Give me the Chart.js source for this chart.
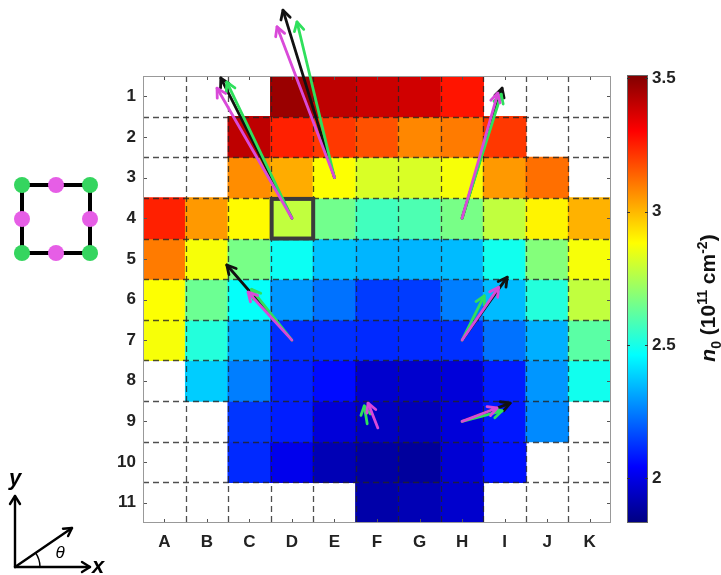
<!DOCTYPE html>
<html><head><meta charset="utf-8">
<script src="https://cdn.jsdelivr.net/npm/chart.js@4.4.0/dist/chart.umd.min.js"></script>
<style>
html,body{margin:0;padding:0;background:#fff;width:721px;height:575px;overflow:hidden;}
#main{position:absolute;left:0;top:0;}
#cb{position:absolute;left:600px;top:0;}
#cbTitle{position:absolute;left:709px;top:298px;transform:translate(-50%,-50%) rotate(-90deg);font:bold 21px "Liberation Sans",Arial,sans-serif;white-space:nowrap;color:#111;}
#cbTitle sub,#cbTitle sup{font-size:14px;}
svg{position:absolute;left:0;top:0;pointer-events:none;}
</style></head><body>
<canvas id="main" width="721" height="575"></canvas>
<canvas id="cb" width="121" height="575"></canvas>
<div id="cbTitle"><i>n</i><sub>0</sub> (10<sup>11</sup> cm<sup>-2</sup>)</div>
<svg width="721" height="575">
  <rect x="22" y="185" width="68" height="68" fill="none" stroke="#000" stroke-width="4"/>
  <g fill="#35d55f"><circle cx="22" cy="185" r="8"/><circle cx="90" cy="185" r="8"/><circle cx="22" cy="253" r="8"/><circle cx="90" cy="253" r="8"/></g>
  <g fill="#e65ee6"><circle cx="56" cy="185" r="8"/><circle cx="22" cy="219" r="8"/><circle cx="90" cy="219" r="8"/><circle cx="56" cy="253" r="8"/></g>
  <g stroke="#000" stroke-width="2.4" fill="none" stroke-linecap="round" stroke-linejoin="round">
    <line x1="15" y1="567" x2="15" y2="496"/>
    <polyline points="10,504 15,496 20,504"/>
    <line x1="15" y1="567" x2="90" y2="567"/>
    <polyline points="82,562 90,567 82,572"/>
    <line x1="15" y1="567" x2="72" y2="528"/>
    <polyline points="63,528.7 72,528 68.1,536.1"/>
    <path d="M40,567 A25,25 0 0 0 35.6,552.9" stroke-width="1.5"/>
  </g>
  <g font-family="Liberation Sans, Arial, sans-serif" font-style="italic" font-weight="bold" fill="#000">
    <text x="15" y="485" font-size="22" text-anchor="middle">y</text>
    <text x="92" y="573" font-size="22">x</text>
    <text x="60" y="558" font-size="17" text-anchor="middle" font-weight="normal">θ</text>
  </g>
</svg>
<script>
const colLabels = ['A','B','C','D','E','F','G','H','I','J','K'];
const rowLabels = ['1','2','3','4','5','6','7','8','9','10','11'];
// n0 values (10^11 cm^-2), columns A..K, null = no data
const n0Row1  = [null, null, null, 3.47, 3.41, 3.39, 3.38, 3.27, null, null, null];
const n0Row2  = [null, null, 3.41, 3.25, 3.21, 3.17, 3.08, 3.10, 3.21, null, null];
const n0Row3  = [null, null, 3.07, 3.02, 2.88, 2.82, 2.82, 2.87, 3.05, 3.12, null];
const n0Row4  = [3.25, 3.05, 2.89, 2.78, 2.65, 2.57, 2.59, 2.66, 2.78, 2.90, 3.01];
const n0Row5  = [3.10, 2.87, 2.66, 2.48, 2.36, 2.34, 2.34, 2.35, 2.49, 2.68, 2.87];
const n0Row6  = [2.88, 2.64, 2.47, 2.29, 2.23, 2.14, 2.14, 2.25, 2.35, 2.52, 2.78];
const n0Row7  = [2.87, 2.52, 2.33, 2.12, 2.12, 2.11, 2.11, 2.12, 2.23, 2.33, 2.61];
const n0Row8  = [null, 2.38, 2.25, 2.10, 2.06, 1.96, 1.96, 1.98, 2.09, 2.29, 2.49];
const n0Row9  = [null, null, 2.13, 2.09, 1.98, 1.94, 1.93, 1.98, 2.08, 2.27, null];
const n0Row10 = [null, null, 2.11, 2.01, 1.92, 1.89, 1.88, 1.97, 2.07, null, null];
const n0Row11 = [null, null, null, null, null, 1.90, 1.92, 1.96, null, null, null];
const n0Rows = [n0Row1, n0Row2, n0Row3, n0Row4, n0Row5, n0Row6, n0Row7, n0Row8, n0Row9, n0Row10, n0Row11];

const colorMin = 1.832, colorMax = 3.513;
const colorbarTicks = [2, 2.5, 3, 3.5];
const highlightCell = [4, 4]; // column D, row 4

// arrows: [tailCol, tailRow, headCol, headRow] in cell units
const blackArrows   = [[4,4,2.33,0.55],[5,3,3.79,-1.12],[8,4,8.94,0.80],[4,7,2.47,5.15],[8,7,9.06,5.45],[8,9,9.13,8.55]];
const greenArrows   = [[4,4,2.47,0.65],[5,3,4.12,-0.83],[8,4,8.92,0.95],[4,7,3.05,5.75],[8,7,8.52,5.91],[5.77,9.06,5.70,8.62],[8,9,8.94,8.74]];
const magentaArrows = [[4,4,2.24,0.80],[5,3,3.65,-0.71],[8,4,8.84,0.92],[4,7,2.97,5.82],[8,7,8.86,5.70],[6.02,9.16,5.79,8.55],[8,9,8.82,8.67]];

function clamp01(v){ return Math.max(0, Math.min(1, v)); }
function jetRGB(t){
  t = clamp01(t);
  return [clamp01(1.5 - Math.abs(4*t - 3)), clamp01(1.5 - Math.abs(4*t - 2)), clamp01(1.5 - Math.abs(4*t - 1))];
}
function jetCss(t){ const c = jetRGB(t); return 'rgb(' + c.map(v => Math.round(v*255)).join(',') + ')'; }
function valueColor(v){ return jetCss((v - colorMin) / (colorMax - colorMin)); }

const datasets = n0Rows.map((row, ri) => ({
  data: row.map((v, ci) => v == null ? null : {x: ci + 1, y: [ri + 0.5, ri + 1.5], v: v}).filter(Boolean),
  backgroundColor: ctx => (ctx.raw ? valueColor(ctx.raw.v) : '#fff'),
  borderWidth: 0,
  inflateAmount: 0.6,
  grouped: false,
  categoryPercentage: 1,
  barPercentage: 1
}));

const labelFont = {family: '"Liberation Sans", Arial, sans-serif', size: 17, weight: 'bold'};

function drawArrow(ctx, x0, y0, x1, y1, color){
  ctx.strokeStyle = color;
  ctx.lineWidth = 2.8;
  ctx.lineCap = 'round';
  ctx.lineJoin = 'round';
  ctx.beginPath(); ctx.moveTo(x0, y0); ctx.lineTo(x1, y1); ctx.stroke();
  const ang = Math.atan2(y1 - y0, x1 - x0), L = 10, A = 0.5;
  ctx.beginPath();
  ctx.moveTo(x1 - L*Math.cos(ang - A), y1 - L*Math.sin(ang - A));
  ctx.lineTo(x1, y1);
  ctx.lineTo(x1 - L*Math.cos(ang + A), y1 - L*Math.sin(ang + A));
  ctx.stroke();
}

const overlayPlugin = {
  id: 'heatOverlay',
  afterDatasetsDraw(chart){
    const {ctx, chartArea: a, scales: {x, y}} = chart;
    ctx.save();
    // dashed cell boundaries
    ctx.strokeStyle = 'rgba(35,35,35,0.8)';
    ctx.lineWidth = 1.3;
    ctx.setLineDash([6, 4]);
    for (let i = 1; i < colLabels.length; i++){
      const px = Math.round(x.getPixelForValue(i + 0.5)) + 0.5;
      ctx.beginPath(); ctx.moveTo(px, a.top); ctx.lineTo(px, a.bottom); ctx.stroke();
    }
    for (let j = 1; j < rowLabels.length; j++){
      const py = Math.round(y.getPixelForValue(j + 0.5)) + 0.5;
      ctx.beginPath(); ctx.moveTo(a.left, py); ctx.lineTo(a.right, py); ctx.stroke();
    }
    ctx.setLineDash([]);
    // inner ticks
    ctx.strokeStyle = '#555'; ctx.lineWidth = 1;
    colLabels.forEach((_, i) => {
      const px = Math.round(x.getPixelForValue(i + 1)) + 0.5;
      ctx.beginPath(); ctx.moveTo(px, a.top); ctx.lineTo(px, a.top + 4); ctx.stroke();
      ctx.beginPath(); ctx.moveTo(px, a.bottom); ctx.lineTo(px, a.bottom - 4); ctx.stroke();
    });
    rowLabels.forEach((_, j) => {
      const py = Math.round(y.getPixelForValue(j + 1)) + 0.5;
      ctx.beginPath(); ctx.moveTo(a.left, py); ctx.lineTo(a.left + 4, py); ctx.stroke();
      ctx.beginPath(); ctx.moveTo(a.right, py); ctx.lineTo(a.right - 4, py); ctx.stroke();
    });
    // frame
    ctx.strokeStyle = '#999'; ctx.lineWidth = 1;
    ctx.strokeRect(Math.round(a.left) + 0.5, Math.round(a.top) + 0.5, Math.round(a.width) - 1, Math.round(a.height) - 1);
    // highlighted cell
    const hx0 = x.getPixelForValue(highlightCell[0] - 0.5), hx1 = x.getPixelForValue(highlightCell[0] + 0.5);
    const hy0 = y.getPixelForValue(highlightCell[1] - 0.5), hy1 = y.getPixelForValue(highlightCell[1] + 0.5);
    ctx.strokeStyle = '#3b3b3b'; ctx.lineWidth = 4;
    ctx.strokeRect(hx0 + 1, hy0 + 1, hx1 - hx0 - 1, hy1 - hy0 - 1);
    // arrows
    const groups = [[blackArrows, '#111111'], [greenArrows, '#2fe05c'], [magentaArrows, '#d94ad9']];
    groups.forEach(([list, color]) => list.forEach(ar => {
      drawArrow(ctx, x.getPixelForValue(ar[0]), y.getPixelForValue(ar[1]), x.getPixelForValue(ar[2]), y.getPixelForValue(ar[3]), color);
    }));
    ctx.restore();
  }
};

new Chart(document.getElementById('main'), {
  type: 'bar',
  data: {datasets: datasets},
  options: {
    responsive: false,
    animation: false,
    layout: {padding: {left: 100, right: 110, top: 76, bottom: 0}},
    plugins: {legend: {display: false}, tooltip: {enabled: false}},
    scales: {
      x: {
        type: 'linear', min: 0.5, max: 11.5, offset: false,
        grid: {display: false, drawTicks: false, offset: false}, border: {display: false},
        afterBuildTicks: s => { s.ticks = colLabels.map((_, i) => ({value: i + 1})); },
        afterFit: s => { s.height = 52; },
        ticks: {callback: v => colLabels[v - 1] || '', font: labelFont, color: '#222', padding: 9, maxRotation: 0, autoSkip: false}
      },
      y: {
        type: 'linear', reverse: true, min: 0.5, max: 11.5,
        grid: {display: false, drawTicks: false}, border: {display: false},
        afterBuildTicks: s => { s.ticks = rowLabels.map((_, i) => ({value: i + 1})); },
        afterFit: s => { s.width = 43; },
        ticks: {callback: v => rowLabels[v - 1] || '', font: labelFont, color: '#222', padding: 7, autoSkip: false}
      }
    }
  },
  plugins: [overlayPlugin]
});

const colorbarPlugin = {
  id: 'colorbarFill',
  beforeDatasetsDraw(chart){
    const {ctx, chartArea: a, scales: {y}} = chart;
    ctx.save();
    const g = ctx.createLinearGradient(0, a.bottom, 0, a.top);
    [0, 0.125, 0.375, 0.625, 0.875, 1].forEach(t => g.addColorStop(t, jetCss(t)));
    ctx.fillStyle = g;
    ctx.fillRect(a.left, a.top, a.width, a.height);
    ctx.strokeStyle = '#666'; ctx.lineWidth = 1;
    ctx.strokeRect(Math.round(a.left) + 0.5, Math.round(a.top) + 0.5, Math.round(a.width) - 1, Math.round(a.height) - 1);
    ctx.strokeStyle = '#333';
    colorbarTicks.forEach(v => {
      const py = Math.round(y.getPixelForValue(v)) + 0.5;
      ctx.beginPath(); ctx.moveTo(a.left, py); ctx.lineTo(a.left + 3, py); ctx.stroke();
      ctx.beginPath(); ctx.moveTo(a.right, py); ctx.lineTo(a.right - 3, py); ctx.stroke();
    });
    ctx.restore();
  }
};

new Chart(document.getElementById('cb'), {
  type: 'scatter',
  data: {datasets: [{data: []}]},
  options: {
    responsive: false,
    animation: false,
    layout: {padding: {left: 27, right: 0, top: 75, bottom: 52}},
    plugins: {legend: {display: false}, tooltip: {enabled: false}},
    scales: {
      x: {display: false, min: 0, max: 1},
      y: {
        position: 'right', min: colorMin, max: colorMax,
        grid: {display: false, drawTicks: false}, border: {display: false},
        afterBuildTicks: s => { s.ticks = colorbarTicks.map(v => ({value: v})); },
        afterFit: s => { s.width = 73; },
        ticks: {callback: v => String(v), font: labelFont, color: '#222', padding: 4}
      }
    }
  },
  plugins: [colorbarPlugin]
});
</script>
</body></html>
